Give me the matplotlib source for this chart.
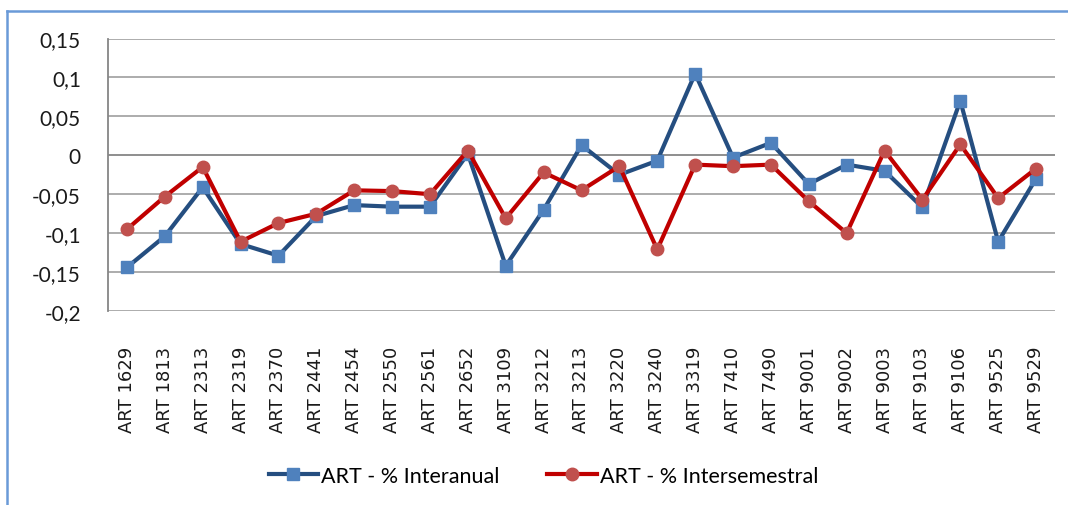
import matplotlib.pyplot as plt
from matplotlib.lines import Line2D
from matplotlib.ticker import FixedLocator, FuncFormatter

# Data
articles = ["ART 1629", "ART 1813", "ART 2313", "ART 2319", "ART 2370",
            "ART 2441", "ART 2454", "ART 2550", "ART 2561", "ART 2652",
            "ART 3109", "ART 3212", "ART 3213", "ART 3220", "ART 3240",
            "ART 3319", "ART 7410", "ART 7490", "ART 9001", "ART 9002",
            "ART 9003", "ART 9103", "ART 9106", "ART 9525", "ART 9529"]

interanual = [-0.144, -0.104, -0.041, -0.114, -0.129,
              -0.078, -0.064, -0.066, -0.066, 0.002,
              -0.142, -0.070, 0.013, -0.025, -0.007,
              0.105, -0.003, 0.016, -0.037, -0.012,
              -0.020, -0.067, 0.070, -0.111, -0.030]

intersemestral = [-0.095, -0.053, -0.015, -0.111, -0.087,
                  -0.075, -0.045, -0.046, -0.050, 0.006,
                  -0.081, -0.022, -0.045, -0.014, -0.121,
                  -0.012, -0.014, -0.012, -0.059, -0.100,
                  0.006, -0.057, 0.014, -0.055, -0.017]

y_ticks = [-0.2, -0.15, -0.1, -0.05, 0, 0.05, 0.1, 0.15]

W, H = 1068, 506
fig = plt.figure(figsize=(W / 100, H / 100), dpi=100)
ax = fig.add_axes([108 / W, 1 - 312 / H, (1055 - 108) / W, (312 - 39.5) / H])

x = list(range(len(articles)))
ax.plot(x, interanual, color="#254E80", lw=3, marker="s", ms=9,
        mfc="#4F81BD", mec="#4F81BD", label="ART - % Interanual", zorder=3)
ax.plot(x, intersemestral, color="#C00000", lw=3, marker="o", ms=9,
        mfc="#C0504D", mec="#C0504D", label="ART - % Intersemestral", zorder=4)

ax.set_xlim(-0.5, len(articles) - 0.5)
ax.set_ylim(-0.2, 0.15)
ax.yaxis.set_major_locator(FixedLocator(y_ticks))


def comma_fmt(v, pos):
    s = ("%.2f" % v).rstrip("0").rstrip(".")
    if s == "-0":
        s = "0"
    return s.replace(".", ",")


ax.yaxis.set_major_formatter(FuncFormatter(comma_fmt))
for t in y_ticks:
    ax.axhline(t, color="#868686" if t == 0 else "#A6A6A6", lw=1.3, zorder=1)

ax.set_xticks(x)
ax.set_xticklabels(articles, rotation=90, fontsize=13, family="DejaVu Sans",
                   color="#1a1a1a")
ax.tick_params(axis="x", length=0, pad=25)
ax.tick_params(axis="y", length=0, pad=19.5, labelsize=15)
for lbl in ax.get_yticklabels():
    lbl.set_family("Lato")
    lbl.set_color("#1a1a1a")

for s in ["top", "right", "bottom"]:
    ax.spines[s].set_visible(False)
ax.spines["left"].set_color("#868686")
ax.spines["left"].set_linewidth(1.3)

leg = fig.legend(loc="center", bbox_to_anchor=(543.5 / W, 1 - 477 / H), ncol=2,
                 frameon=False, handlelength=2.3, columnspacing=2.2,
                 handletextpad=0.15, prop={"family": "Lato", "size": 15.5})

# outer chart frame (cut at right and bottom)
fig.add_artist(Line2D([7 / W, 7 / W], [0, 1 - 12 / H], color="#6A9AD8",
                      lw=1.8, transform=fig.transFigure))
fig.add_artist(Line2D([7 / W, 1], [1 - 12 / H, 1 - 12 / H], color="#6A9AD8",
                      lw=1.8, transform=fig.transFigure))

fig.savefig("out.png", dpi=100)
